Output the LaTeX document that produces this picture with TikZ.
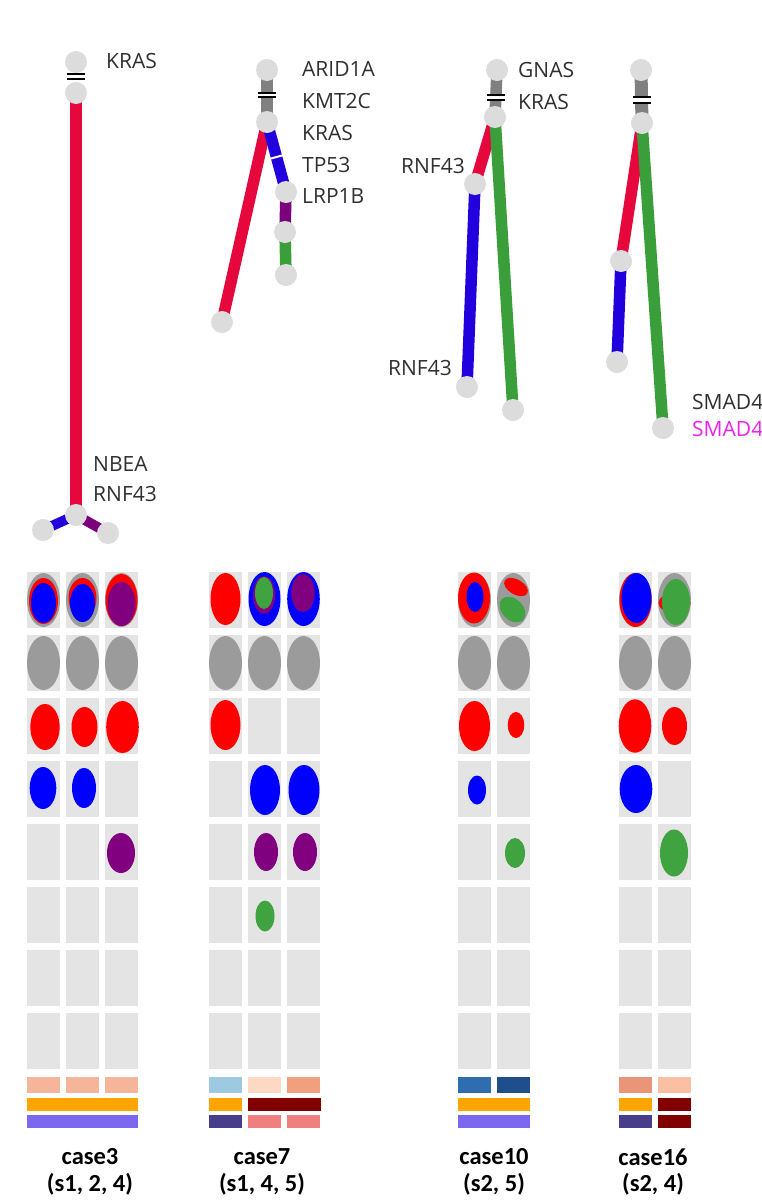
\documentclass[tikz,border=0pt]{standalone}
\usepackage{fontspec}
\setmainfont{Open Sans}
\newfontfamily\casefont{Carlito}
\usetikzlibrary{calc}
\pgfdeclarelayer{back}
\pgfdeclarelayer{bg}
\pgfsetlayers{back,bg,main}
\definecolor{nodegray}{HTML}{DCDCDC}
\definecolor{cellgray}{HTML}{E4E4E4}
\definecolor{labgray}{HTML}{303030}
\definecolor{trred}{HTML}{E6073C}
\definecolor{trblue}{HTML}{2200DD}
\definecolor{trgreen}{HTML}{3A9E3A}
\definecolor{trpurple}{HTML}{7B007B}
\definecolor{trgray}{HTML}{808080}
\definecolor{ered}{HTML}{FF0000}
\definecolor{eblue}{HTML}{0000FF}
\definecolor{epurple}{HTML}{800080}
\definecolor{egreen}{HTML}{3FA33F}
\definecolor{egray}{HTML}{9B9B9B}
\definecolor{magentalab}{HTML}{EE22EE}
\definecolor{salmA}{HTML}{F5B59B}
\definecolor{salmB}{HTML}{FDD9C4}
\definecolor{salmC}{HTML}{F0A07C}
\definecolor{salmD}{HTML}{EB9578}
\definecolor{salmE}{HTML}{FBBFA3}
\definecolor{ltblue}{HTML}{9ECAE1}
\definecolor{mdblue}{HTML}{2F6DB0}
\definecolor{dkblue}{HTML}{1F4E8C}
\definecolor{orng}{HTML}{FFA500}
\definecolor{slate}{HTML}{7B68EE}
\definecolor{dslate}{HTML}{483D8B}
\definecolor{maroon}{HTML}{800000}
\definecolor{coral}{HTML}{F08080}
\newcommand\elp[5]{\fill[#1] (#2,#3) ellipse [x radius=#4pt, y radius=#5pt];}
\newcommand\relp[6]{\fill[#1,shift={(#2,#3)},rotate=#6] (0,0) ellipse [x radius=#4pt, y radius=#5pt];}
\newcommand\cb[5]{\fill[#1] (#2,#3) rectangle (#4,#5);}
\newcommand\brk[3]{\fill[white] (#1-9,#2) rectangle (#1+9,#3);
  \draw[line width=1.8pt] (#1-9,#2) -- (#1+9,#2) (#1-9,#3) -- (#1+9,#3);}
\begin{document}
\begin{tikzpicture}[x=1pt,y=-1pt,
  tn/.style={circle,fill=nodegray,minimum size=22pt,inner sep=0pt},
  lab/.style={font=\fontsize{21}{25}\selectfont,inner sep=0pt,text=labgray},
  clab/.style={font=\casefont\bfseries\fontsize{24.5}{28}\selectfont,inner sep=0pt,text=black},
  edge/.style={line width=11.5pt}]
\useasboundingbox (0,0) rectangle (762,1200);
\clip (0,0) rectangle (762,1200);
\begin{pgfonlayer}{back}
\fill[white] (0,0) rectangle (762,1200);
\end{pgfonlayer}

% ---------- tree 1 (case3)
\node[tn] (a1) at (76,62) {};
\node[tn] (a2) at (76,93) {};
\node[tn] (a3) at (76,515) {};
\node[tn] (a4) at (43,530) {};
\node[tn] (a5) at (108,533) {};
\begin{pgfonlayer}{bg}
\draw[trred,line width=12pt] (a2.center) -- (a3.center);
\draw[trblue,line width=10pt] (a3.center) -- (a4.center);
\draw[trpurple,line width=10pt] (a3.center) -- (a5.center);
\end{pgfonlayer}
\brk{76}{74.3}{79.3}
\node[lab,anchor=west] (la1) at (106,61) {KRAS};
\node[lab,anchor=west] (la2) at (93,464) {NBEA};
\node[lab,anchor=west] (la3) at (93,494) {RNF43};

% ---------- tree 2 (case7)
\node[tn] (b1) at (267,70) {};
\node[tn] (b2) at (267,122) {};
\node[tn] (b3) at (222,322) {};
\node[tn] (b4) at (286,192) {};
\node[tn] (b5) at (285,232) {};
\node[tn] (b6) at (286,275) {};
\begin{pgfonlayer}{bg}
\draw[trgray,edge] (b1.center) -- (b2.center);
\draw[trred,edge] (b2.center) -- (b3.center);
\draw[trblue,edge] (b2.center) -- (b4.center);
\draw[trpurple,edge] (b4.center) -- (b5.center);
\draw[trgreen,edge] (b5.center) -- (b6.center);
\end{pgfonlayer}
\brk{266.5}{92.7}{97.3}
\draw[white,line width=2pt] ($(b2)!0.5!(b4)!8pt!90:(b4)$) -- ($(b2)!0.5!(b4)!8pt!-90:(b4)$);
\node[lab,anchor=west] (lb1) at (302,69) {ARID1A};
\node[lab,anchor=west] (lb2) at (302,100.5) {KMT2C};
\node[lab,anchor=west] (lb3) at (302,132.5) {KRAS};
\node[lab,anchor=west] (lb4) at (302,164.5) {TP53};
\node[lab,anchor=west] (lb5) at (302,195.5) {LRP1B};

% ---------- tree 3 (case10)
\node[tn] (c1) at (497,70) {};
\node[tn] (c2) at (495,117) {};
\node[tn] (c3) at (475,184) {};
\node[tn] (c4) at (467,387) {};
\node[tn] (c5) at (513,410) {};
\begin{pgfonlayer}{bg}
\draw[trgray,edge] (c1.center) -- (c2.center);
\draw[trred,edge] (c2.center) -- (c3.center);
\draw[trblue,edge] (c3.center) -- (c4.center);
\draw[trgreen,edge] (c2.center) -- (c5.center);
\end{pgfonlayer}
\brk{496}{95}{100}
\node[lab,anchor=west] (lc1) at (518,70) {GNAS};
\node[lab,anchor=west] (lc2) at (518,102) {KRAS};
\node[lab,anchor=east] (lc3) at (465,166) {RNF43};
\node[lab,anchor=east] (lc4) at (452,368) {RNF43};

% ---------- tree 4 (case16)
\node[tn] (d1) at (641,70) {};
\node[tn] (d2) at (642,123) {};
\node[tn] (d3) at (621,261) {};
\node[tn] (d4) at (617,362) {};
\node[tn] (d5) at (663,428) {};
\begin{pgfonlayer}{bg}
\draw[trgray,line width=13pt] (d1.center) -- (d2.center);
\draw[trred,edge] (d2.center) -- (d3.center);
\draw[trblue,edge] (d3.center) -- (d4.center);
\draw[trgreen,edge] (d2.center) -- (d5.center);
\end{pgfonlayer}
\brk{642}{96.7}{103.3}
\node[lab,anchor=west] (ld1) at (692,401.5) {SMAD4};
\node[lab,anchor=west,text=magentalab] (ld2) at (692,428.5) {SMAD4};

% ---------- grid cells
\foreach \cx in {27,66,105,209,248,287,458,497,619,658}{
  \foreach \r in {0,...,7}{
    \fill[cellgray] (\cx,572+63*\r) rectangle ++(33,56);
  }
}

% row 2: all gray
\foreach \cx in {43.5,82.5,121.5,225.5,264.5,303.5,474.5,513.5,635.5,674.5}{
  \elp{egray}{\cx}{663}{16.5}{27}
}

% case3 row1
\elp{egray}{43.5}{600}{16.5}{27}
\elp{ered}{43.5}{601}{14.5}{23}
\elp{eblue}{43.5}{603}{12.5}{20}
\elp{egray}{82.5}{600}{16.5}{27}
\elp{ered}{82.5}{598}{14}{20}
\elp{eblue}{82.5}{603}{12.5}{19}
\elp{egray}{121.5}{600}{16.5}{27}
\elp{ered}{121.5}{600}{16}{26}
\elp{epurple}{121.5}{604}{14}{22}
% case3 rows 3-5
\elp{ered}{45}{727}{14.7}{23}
\elp{ered}{84.5}{727}{13}{20}
\elp{ered}{122.5}{727}{16.3}{26}
\elp{eblue}{43}{788}{13.3}{21}
\elp{eblue}{84}{788}{12}{20}
\elp{epurple}{121}{853}{14}{20}

% case7 row1
\elp{ered}{225.5}{599}{15}{26}
\elp{eblue}{264.5}{599}{16}{27}
\elp{epurple}{264}{595}{11}{19}
\elp{egreen}{264}{593}{9}{16}
\elp{eblue}{303.5}{599}{16.3}{27}
\elp{epurple}{303}{593}{11.7}{19}
% case7 rows 3-6
\elp{ered}{225.5}{725}{15}{25}
\elp{eblue}{265}{790}{15}{25}
\elp{eblue}{304}{790}{15.5}{25}
\elp{epurple}{266}{852}{12}{19}
\elp{epurple}{305}{852}{12}{19}
\elp{egreen}{265}{916}{9.5}{15.5}

% case10 row1
\elp{egray}{474.5}{600}{16.5}{27}
\elp{ered}{474}{598}{16}{25.5}
\elp{eblue}{475}{597}{8.5}{15}
\elp{egray}{513.5}{600}{16.5}{27}
\relp{ered}{516}{587}{13}{7.5}{-30}
\relp{egreen}{512.5}{609.5}{15}{10.5}{-45}
% case10 rows 3-5
\elp{ered}{474.5}{726}{15.5}{25}
\elp{ered}{516}{725}{8.3}{13}
\elp{eblue}{477}{790}{9}{14.5}
\elp{egreen}{515}{853}{10}{15}

% case16 row1
\elp{egray}{635.5}{600}{16.5}{27}
\elp{ered}{635.5}{600}{16}{27}
\elp{eblue}{636.5}{598}{15}{25}
\elp{egray}{674.5}{600}{16.5}{27}
\elp{ered}{674.5}{603}{16}{10}
\elp{egreen}{676}{602}{14}{23}
% case16 rows 3-5
\elp{ered}{635}{726}{16.3}{26.7}
\elp{ered}{674.5}{726}{12.5}{19}
\elp{eblue}{636}{789}{16.3}{24}
\elp{egreen}{674}{853}{14}{23.5}

% ---------- colour bars
% case3
\cb{salmA}{27}{1077}{60}{1093}
\cb{salmA}{66}{1077}{99}{1093}
\cb{salmA}{105}{1077}{138}{1093}
\cb{orng}{27}{1098}{138}{1111}
\cb{slate}{27}{1115}{138}{1128}
% case7
\cb{ltblue}{209}{1077}{242}{1093}
\cb{salmB}{248}{1077}{281}{1093}
\cb{salmC}{287}{1077}{320}{1093}
\cb{orng}{209}{1098}{242}{1111}
\cb{maroon}{248}{1098}{321}{1111}
\cb{dslate}{209}{1115}{242}{1128}
\cb{coral}{248}{1115}{281}{1128}
\cb{coral}{287}{1115}{320}{1128}
% case10
\cb{mdblue}{458}{1077}{491}{1093}
\cb{dkblue}{497}{1077}{530}{1093}
\cb{orng}{458}{1098}{530}{1111}
\cb{slate}{458}{1115}{530}{1128}
% case16
\cb{salmD}{619}{1077}{652}{1093}
\cb{salmE}{658}{1077}{691}{1093}
\cb{orng}{619}{1098}{652}{1111}
\cb{maroon}{658}{1098}{691}{1111}
\cb{dslate}{619}{1115}{652}{1128}
\cb{maroon}{658}{1115}{691}{1128}

% ---------- case labels
\node[clab] (k3a) at (90,1157) {case3};
\node[clab] (k3b) at (90,1184) {(s1, 2, 4)};
\node[clab] (k7a) at (262,1157) {case7};
\node[clab] (k7b) at (262,1184) {(s1, 4, 5)};
\node[clab] (k10a) at (494,1157) {case10};
\node[clab] (k10b) at (494,1184) {(s2, 5)};
\node[clab] (k16a) at (653,1157) {case16};
\node[clab] (k16b) at (653,1184) {(s2, 4)};
\end{tikzpicture}
\end{document}
